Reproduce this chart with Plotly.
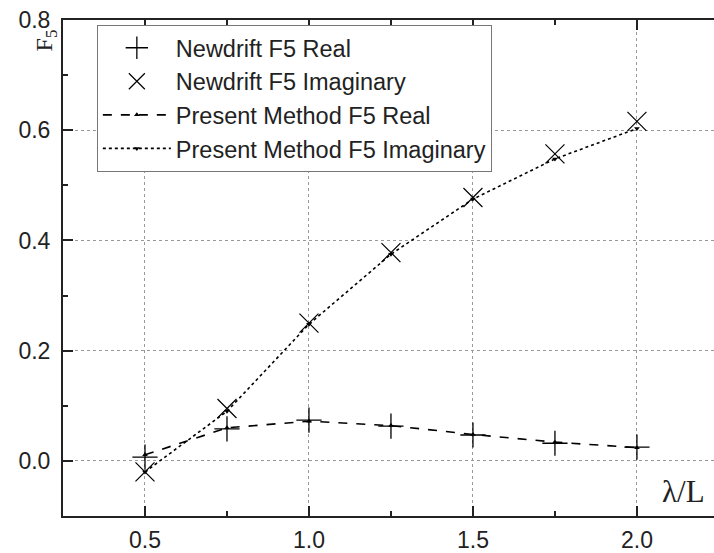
import plotly.graph_objects as go

# wavelength ratio lambda/L
wave_ratio = [0.5, 0.75, 1.0, 1.25, 1.5, 1.75, 2.0]

# F5 from Newdrift
newdrift_real = [0.007, 0.058, 0.074, 0.063, 0.047, 0.032, 0.025]
newdrift_imag = [-0.020, 0.095, 0.250, 0.378, 0.478, 0.557, 0.616]

# F5 from the present method
present_real = [0.011, 0.060, 0.072, 0.064, 0.048, 0.034, 0.024]
present_imag = [-0.020, 0.090, 0.248, 0.375, 0.475, 0.548, 0.603]

x_ticks = [0.5, 1.0, 1.5, 2.0]
x_tick_text = ["0.5", "1.0", "1.5", "2.0"]
y_ticks = [0.0, 0.2, 0.4, 0.6, 0.8]
y_tick_text = ["0.0", "0.2", "0.4", "0.6", "0.8"]

sans = "Liberation Sans, Arial, sans-serif"
serif = "Liberation Serif, Times New Roman, serif"

fig = go.Figure()

fig.add_trace(go.Scatter(
    x=wave_ratio, y=newdrift_real, mode="markers", name="Newdrift F5 Real",
    marker=dict(symbol="cross-thin-open", size=18, color="black",
                line=dict(color="black", width=1.3)),
))
fig.add_trace(go.Scatter(
    x=wave_ratio, y=newdrift_imag, mode="markers", name="Newdrift F5 Imaginary",
    marker=dict(symbol="x-thin-open", size=19, color="black",
                line=dict(color="black", width=1.2)),
))
fig.add_trace(go.Scatter(
    x=wave_ratio, y=present_real, mode="lines+markers", name="Present Method F5 Real",
    line=dict(color="black", width=1.6, dash="dash"),
    marker=dict(symbol="triangle-up", size=5, color="black"),
))
fig.add_trace(go.Scatter(
    x=wave_ratio, y=present_imag, mode="lines+markers", name="Present Method F5 Imaginary",
    line=dict(color="black", width=1.6, dash="dot"),
    marker=dict(symbol="triangle-down", size=5, color="black"),
))

fig.update_layout(
    width=714, height=553,
    margin=dict(l=63, r=0, t=20, b=35),
    paper_bgcolor="white", plot_bgcolor="white",
    font=dict(family=sans, size=23, color="#222"),
    showlegend=True,
    legend=dict(
        x=0.052, y=0.99, xanchor="left", yanchor="top",
        bgcolor="white", bordercolor="#777", borderwidth=1,
        font=dict(family=sans, size=23.5, color="#222"),
        itemwidth=68, tracegroupgap=0,
    ),
    xaxis=dict(
        range=[0.25, 2.235], tickvals=x_ticks, ticktext=x_tick_text,
        showline=True, linecolor="#222", linewidth=2, mirror="ticks",
        ticks="inside", ticklen=10, tickwidth=2, tickcolor="#222",
        showgrid=True, gridcolor="#999", griddash="dot", gridwidth=1,
        minor=dict(dtick=0.25, tick0=0.25, ticks="inside", ticklen=5,
                   tickwidth=2, tickcolor="#222", showgrid=False),
        zeroline=False, ticklabelstandoff=2,
    ),
    yaxis=dict(
        range=[-0.1, 0.8], tickvals=y_ticks, ticktext=y_tick_text,
        showline=True, linecolor="#222", linewidth=2,
        ticks="inside", ticklen=10, tickwidth=2, tickcolor="#222",
        showgrid=True, gridcolor="#999", griddash="dot", gridwidth=1,
        minor=dict(dtick=0.2, tick0=0.1, ticks="inside", ticklen=5,
                   tickwidth=2, tickcolor="#222", showgrid=False),
        zeroline=False, ticklabelstandoff=6,
    ),
    annotations=[
        dict(text="F<sub>5</sub>", xref="paper", yref="paper",
             x=0.0, y=0.985, xanchor="right", yanchor="top",
             textangle=-90, showarrow=False,
             font=dict(family=serif, size=24, color="#222")),
        dict(text="λ/L", xref="paper", yref="paper",
             x=0.99, y=0.01, xanchor="right", yanchor="bottom",
             showarrow=False,
             font=dict(family=serif, size=31, color="#222")),
    ],
)

fig.write_html("out.html")
